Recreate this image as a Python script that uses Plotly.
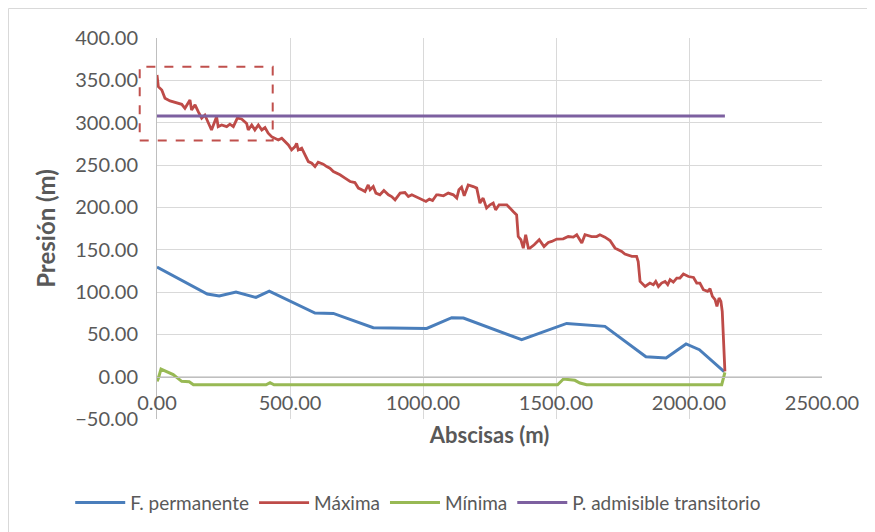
import plotly.graph_objects as go

# Perfil de presiones
perm_x = [0, 189, 234, 297, 372, 422, 594, 663, 813, 1014, 1108, 1152, 1371, 1540, 1684, 1838, 1914, 1989, 2039, 2132]
perm_y = [129.4, 97.6, 95.2, 99.9, 93.6, 101, 75.1, 74.7, 57.8, 57, 69.6, 69.2, 43.7, 62.9, 59.4, 23.6, 22, 38.6, 31.9, 5.9]

max_x = [0, 5, 18, 30, 49, 74, 93, 105, 124, 130, 143, 155, 168, 180, 193, 205, 224, 230, 243, 262,
         274, 287, 302, 318, 337, 343, 356, 368, 381, 394, 406, 418, 431, 444, 456, 469, 481, 494, 506, 519,
         525, 531, 544, 556, 569, 582, 594, 606, 625, 638, 650, 663, 676, 688, 707, 726, 744, 757, 770, 782,
         794, 801, 813, 823, 838, 853, 870, 882, 895, 914, 932, 945, 958, 976, 995, 1011, 1024, 1036, 1051, 1058,
         1077, 1095, 1114, 1127, 1135, 1145, 1155, 1170, 1189, 1202, 1214, 1226, 1239, 1252, 1264, 1273, 1286, 1315, 1339, 1352,
         1358, 1368, 1377, 1386, 1396, 1402, 1418, 1437, 1455, 1471, 1484, 1503, 1527, 1546, 1565, 1578, 1597, 1609, 1634, 1653,
         1665, 1684, 1703, 1722, 1734, 1747, 1759, 1772, 1785, 1803, 1809, 1816, 1835, 1853, 1866, 1875, 1885, 1897, 1910, 1920,
         1929, 1941, 1954, 1966, 1979, 1998, 2017, 2029, 2041, 2054, 2070, 2079, 2088, 2098, 2105, 2113, 2120, 2125, 2133, 2135]
max_y = [356.3, 342.5, 338.6, 328.8, 325.7, 322.9, 321.7, 317, 326.8, 315, 321, 313, 305.3, 309, 299.3, 291.4, 307, 295.3, 297.3, 295.3,
         298.2, 295.3, 305.3, 304.4, 299, 291.4, 297.3, 291.4, 297.3, 291.4, 294.2, 287.5, 283.5, 281.6, 279.6, 281.6, 277.6, 273.7, 267.8, 271.7,
         275.7, 267.8, 269.8, 262, 254, 252.1, 248.1, 253.3, 251, 248.1, 246.2, 242.3, 240.3, 238.4, 234.4, 230.5, 229.3, 222.7, 220.7, 218.7,
         226.5, 220.7, 224.5, 216.8, 214.8, 219.8, 214.8, 212.7, 208.8, 216.8, 217.5, 212.7, 214.8, 212, 209.7, 206.9, 209.7, 208, 214.8, 214.8,
         213.6, 216.8, 214.8, 210.9, 220.7, 223.8, 213.6, 226.5, 224.5, 222.7, 205, 210.9, 199.1, 203, 205, 197, 203, 203, 195, 191.1,
         165.5, 161.7, 151.8, 167.6, 151.8, 151.8, 155.8, 161.7, 153.7, 158.5, 159.7, 162.5, 162.8, 165.5, 164.8, 167.6, 157.8, 167.6, 165.5, 165.5,
         167.6, 164.8, 160.8, 151.8, 149.9, 147.9, 144.8, 143.1, 142, 142, 136, 112.5, 106.5, 110.6, 108.6, 112.5, 106.5, 110.6, 112.5, 108.6,
         114.5, 111.7, 116.5, 116.5, 121.2, 118.3, 117.2, 110.6, 110.6, 102.7, 100.7, 103.8, 94.8, 90.9, 83, 92.9, 88.9, 77, 10.3, 6.3]

min_x = [0, 5, 15, 61, 74, 93, 121, 137, 410, 425, 440, 1506, 1528, 1553, 1571, 1590, 1615, 2123, 2135]
min_y = [-5.5, -2, 9, 2.4, -0.8, -5.5, -6, -9.5, -9.5, -7, -9.5, -9.5, -2.8, -4, -4.3, -7.5, -9.5, -9.5, 5]

adm_x = [0, 2135]
adm_y = [308, 308]

# recuadro de la zona crítica (unidades de datos)
box_x = [-65, 435]
box_y = [279, 366]

x_range = [0, 2500]
y_range = [-50, 400]

gray = '#595959'
font_fam = 'Lato, Carlito, sans-serif'

# margenes (la pagina tiene 8px de margen en el body)
ml, mt, plot_w, plot_h = 149, 30, 665, 381
W, H = 875, 532

fig = go.Figure()
fig.add_trace(go.Scatter(x=perm_x, y=perm_y, mode='lines', name='F. permanente',
                         line=dict(color='#4A7EBB', width=3)))
fig.add_trace(go.Scatter(x=max_x, y=max_y, mode='lines', name='Máxima',
                         line=dict(color='#BE4B48', width=2.8)))
fig.add_trace(go.Scatter(x=min_x, y=min_y, mode='lines', name='Mínima',
                         line=dict(color='#98B954', width=3)))
fig.add_trace(go.Scatter(x=adm_x, y=adm_y, mode='lines', name='P. admisible transitorio',
                         line=dict(color='#7D60A0', width=3)))


def to_paper(v, rng):
    return (v - rng[0]) / (rng[1] - rng[0])


fig.add_shape(type='rect', xref='paper', yref='paper',
              x0=to_paper(box_x[0], x_range), x1=to_paper(box_x[1], x_range),
              y0=to_paper(box_y[0], y_range), y1=to_paper(box_y[1], y_range),
              line=dict(color='#C0504D', width=2, dash='dash'))

# borde del área del gráfico
bx = (0.5 - ml) / plot_w
by = 1 + (mt - 0.5) / plot_h
fig.add_shape(type='line', xref='paper', yref='paper', x0=bx, x1=bx, y0=-0.4, y1=by,
              line=dict(color='#d9d9d9', width=1))
fig.add_shape(type='line', xref='paper', yref='paper', x0=bx, x1=1.2, y0=by, y1=by,
              line=dict(color='#d9d9d9', width=1))

fig.update_layout(
    width=W, height=H,
    plot_bgcolor='white', paper_bgcolor='white',
    font=dict(family=font_fam, color=gray, size=20),
    margin=dict(l=ml, r=W - ml - plot_w, t=mt, b=H - mt - plot_h, autoexpand=False),
    xaxis=dict(range=x_range, dtick=500, tickformat='.2f', anchor='free',
               position=to_paper(0, y_range),
               showgrid=True, gridcolor='#d9d9d9', gridwidth=1,
               showline=True, linecolor='#bfbfbf', linewidth=1, zeroline=False,
               ticks='', ticklabelstandoff=8, tickfont=dict(size=20, color=gray),
               title=dict(text='<b>Abscisas (m)</b>', font=dict(size=22, color=gray), standoff=14)),
    yaxis=dict(range=y_range, dtick=50, tickformat='.2f', domain=[0, 1],
               showgrid=True, gridcolor='#d9d9d9', gridwidth=1,
               showline=True, linecolor='#bfbfbf', linewidth=1, zeroline=False,
               ticks='', ticklabelstandoff=14, tickfont=dict(size=20, color=gray),
               title=dict(text='<b>Presión (m)</b>', font=dict(size=24, color=gray), standoff=12)),
    legend=dict(orientation='h', x=-0.1305, xanchor='left', y=-0.17, yanchor='top',
                font=dict(size=19, color=gray), itemwidth=50),
)

fig.write_html("out.html")
